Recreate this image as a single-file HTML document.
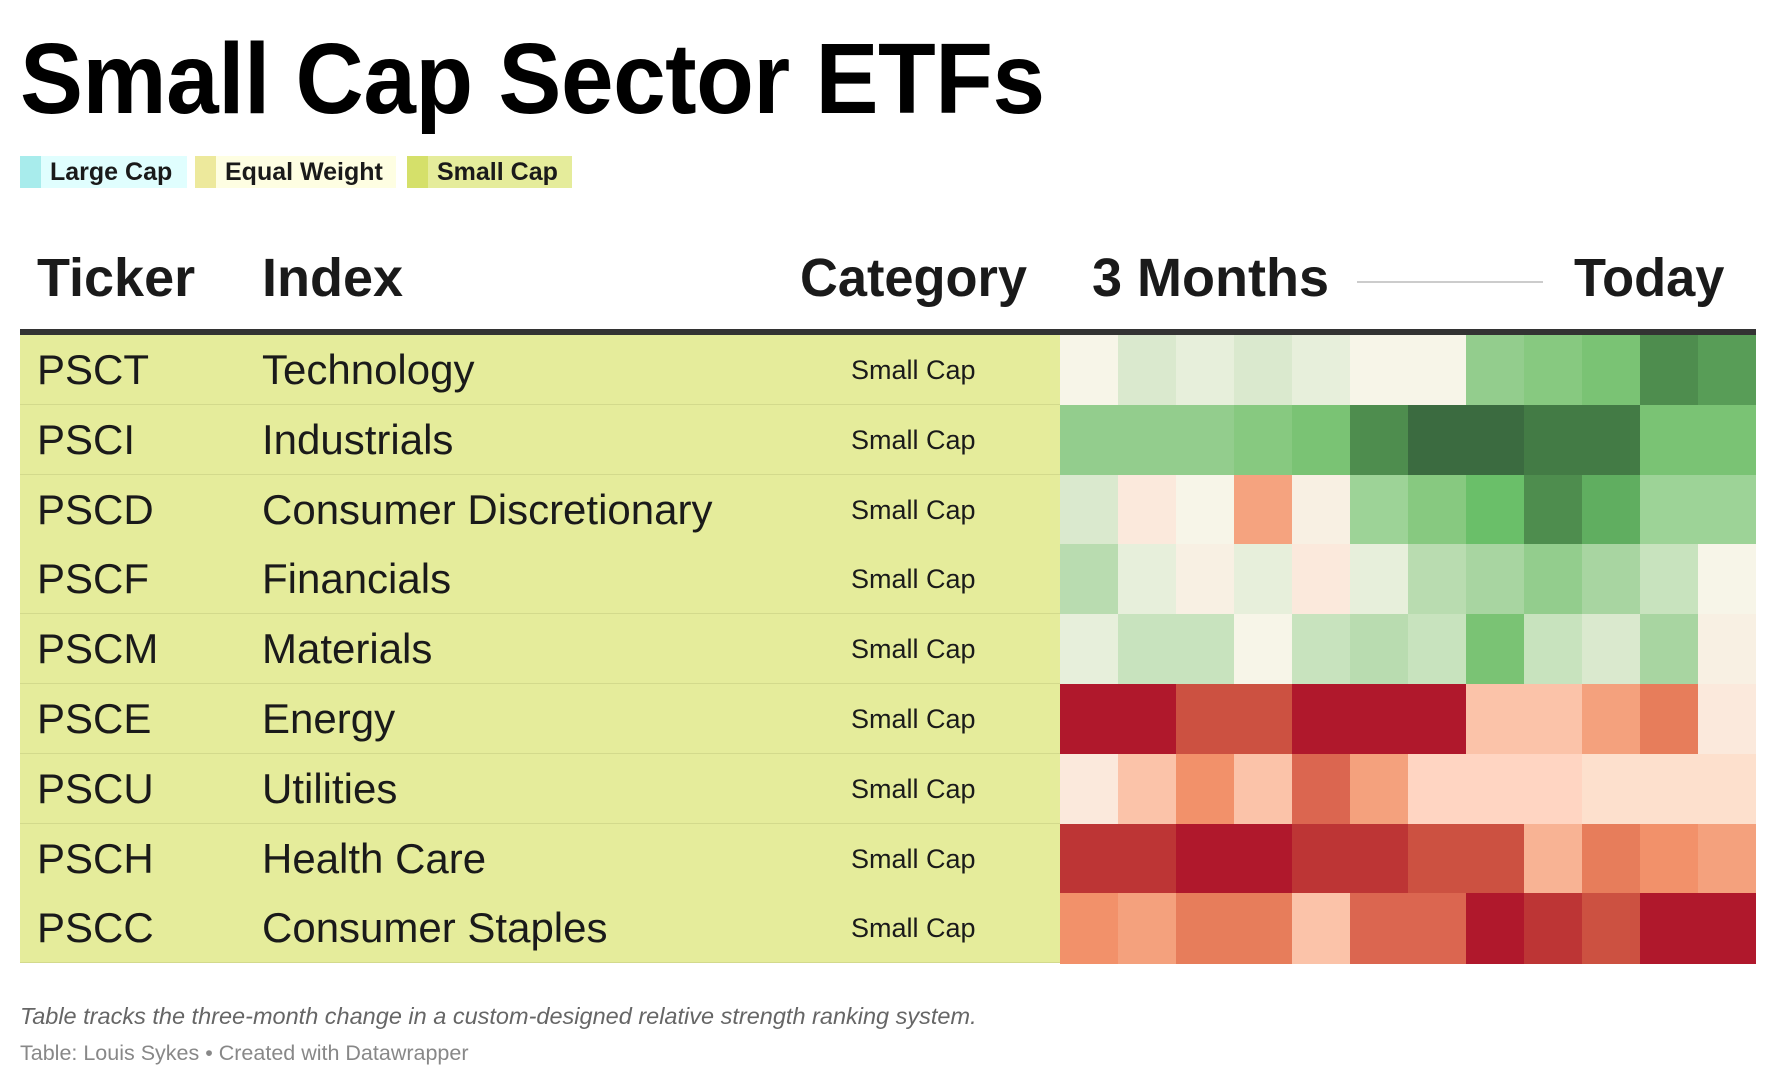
<!DOCTYPE html>
<html><head><meta charset="utf-8"><style>
*{margin:0;padding:0;box-sizing:border-box}
body{width:1776px;height:1086px;background:#fff;position:relative;overflow:hidden;font-family:"Liberation Sans",sans-serif;color:#1a1a1a}
.a{position:absolute;white-space:nowrap}
#title{left:20px;top:22px;font-size:100px;font-weight:bold;color:#000;transform:scaleX(0.945);transform-origin:left top;letter-spacing:-0.5px}
.lg{position:absolute;top:156px;height:32px;font-size:25px;font-weight:bold;line-height:32px;color:#1a1a1a}
.lg span{display:inline-block;width:21px;height:32px;vertical-align:top;margin-right:9px}
.h{top:248px;font-size:54px;font-weight:bold;line-height:60px;color:#1a1a1a}
.row{position:absolute;left:20px;width:1040px;height:70px;background:#e5ec9b;border-bottom:1px solid #d3da8c}
.t{font-size:42px;line-height:70px}
.c{font-size:27px;line-height:70px}
.cell{position:absolute;width:58px;height:70px}
</style></head><body>
<div class="a" id="title">Small Cap Sector ETFs</div>
<div class="lg" style="left:20px;width:167px;background:#e0fefe"><span style="background:#a8ecec"></span>Large Cap</div>
<div class="lg" style="left:195px;width:201px;background:#fefee2"><span style="background:#ede99c"></span>Equal Weight</div>
<div class="lg" style="left:407px;width:165px;background:#e5ec9b"><span style="background:#d5e06a"></span>Small Cap</div>
<div class="a h" style="left:37px">Ticker</div>
<div class="a h" style="left:262px">Index</div>
<div class="a h" style="left:800px;transform:scaleX(0.97);transform-origin:left">Category</div>
<div class="a h" style="left:1092px">3 Months</div>
<div class="a h" style="left:1574px;transform:scaleX(0.97);transform-origin:left">Today</div>
<div class="a" style="left:1357px;top:281px;width:186px;height:2px;background:#ccc"></div>
<div class="a" style="left:20px;top:329px;width:1736px;height:6px;background:#333"></div>
<div id="rows"></div>
<div class="a" style="left:20px;top:1003px;font-size:23.5px;font-style:italic;color:#666">Table tracks the three-month change in a custom-designed relative strength ranking system.</div>
<div class="a" style="left:20px;top:1041px;font-size:21.5px;color:#888">Table: Louis Sykes • Created with Datawrapper</div>
<script>
var d=[["PSCT","Technology","f7f5e8 dae9ce e7efdb dae9ce e7efdb f7f5e8 f7f5e8 93cd8d 87c980 7ac374 4e8d4e 589d57"],
["PSCI","Industrials","93cd8d 93cd8d 93cd8d 87c980 7ac374 4e8d4e 3b6b40 3b6b40 437b45 437b45 7ac374 7ac374"],
["PSCD","Consumer Discretionary","dae9ce fbe9dc f7f5e8 f5a37f f8f0e3 9dd397 87c980 6abf69 4e8d4e 60ae60 9dd397 9dd397"],
["PSCF","Financials","b9dcb0 e7efdb f8f0e3 e7efdb fbe9dc e7efdb b9dcb0 a8d5a1 93cd8d a8d5a1 c8e3be f7f5e8"],
["PSCM","Materials","e7efdb c8e3be c8e3be f7f5e8 c8e3be b9dcb0 c8e3be 7ac374 c8e3be dae9ce a8d5a1 f8f0e3"],
["PSCE","Energy","b0182c b0182c cc5141 cc5141 b0182c b0182c b0182c fbc3a9 fbc3a9 f4a17d e77d5b fbe9dc"],
["PSCU","Utilities","fbe9dc fbc3a9 f2916a fbc3a9 db6650 f4a17d ffd5c2 ffd5c2 ffd5c2 fde0cd fde0cd fde0cd"],
["PSCH","Health Care","bd3535 bd3535 b0182c b0182c bd3535 bd3535 cc5141 cc5141 f8b394 e77d5b f2916a f4a17d"],
["PSCC","Consumer Staples","f2916a f4a17d e77d5b e77d5b fbc3a9 db6650 db6650 b0182c bd3535 cc5141 b0182c b0182c"]];
var h="";
d.forEach(function(r,i){var y=335+i*69.8;
h+='<div class="row" style="top:'+y+'px"></div>';
h+='<div class="a t" style="left:37px;top:'+y+'px">'+r[0]+'</div>';
h+='<div class="a t" style="left:262px;top:'+y+'px">'+r[1]+'</div>';
h+='<div class="a c" style="left:851px;top:'+y+'px">Small Cap</div>';
r[2].split(" ").forEach(function(c,j){h+='<div class="cell" style="left:'+(1060+j*58)+'px;top:'+y+'px;height:70.5px;background:#'+c+'"></div>';});
});
document.getElementById("rows").innerHTML=h;
</script>
</body></html>
